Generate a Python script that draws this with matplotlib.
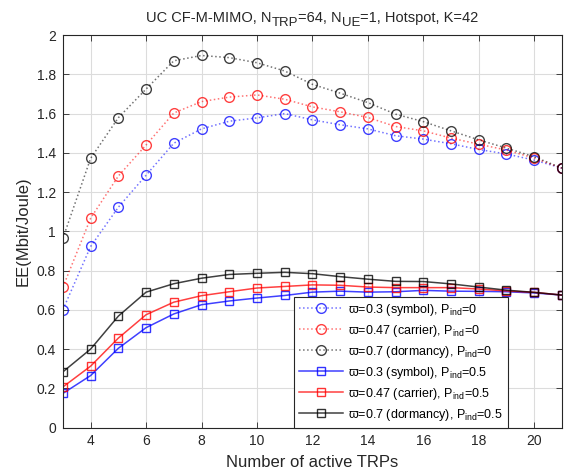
import matplotlib
matplotlib.use("Agg")
import matplotlib.pyplot as plt
from matplotlib.transforms import IdentityTransform
import numpy as np

plt.rcParams['font.family'] = ['Liberation Sans', 'DejaVu Sans']
plt.rcParams['mathtext.default'] = 'regular'

trps = np.arange(3, 22)

# EE with P_ind = 0 (dotted, circles)
ee_sym_p0 = [0.601, 0.923, 1.123, 1.286, 1.449, 1.522, 1.561, 1.578, 1.600, 1.568,
             1.543, 1.522, 1.487, 1.470, 1.446, 1.417, 1.394, 1.363, 1.322]
ee_car_p0 = [0.716, 1.067, 1.282, 1.440, 1.603, 1.661, 1.684, 1.695, 1.673, 1.634,
             1.609, 1.580, 1.534, 1.512, 1.475, 1.444, 1.414, 1.373, 1.322]
ee_dor_p0 = [0.965, 1.372, 1.579, 1.725, 1.869, 1.896, 1.885, 1.859, 1.817, 1.749,
             1.704, 1.656, 1.597, 1.559, 1.512, 1.466, 1.424, 1.380, 1.322]

# EE with P_ind = 0.5 (solid, squares)
ee_sym_p5 = [0.174, 0.265, 0.404, 0.509, 0.579, 0.626, 0.645, 0.660, 0.673, 0.690,
             0.695, 0.690, 0.692, 0.699, 0.695, 0.694, 0.692, 0.686, 0.675]
ee_car_p5 = [0.207, 0.313, 0.456, 0.575, 0.639, 0.672, 0.692, 0.711, 0.719, 0.727,
             0.725, 0.716, 0.713, 0.713, 0.713, 0.706, 0.696, 0.689, 0.675]
ee_dor_p5 = [0.284, 0.400, 0.568, 0.690, 0.733, 0.761, 0.780, 0.786, 0.791, 0.784,
             0.769, 0.756, 0.745, 0.744, 0.732, 0.716, 0.700, 0.689, 0.675]

labels = [
    '\u03d6=0.3 (symbol), P$_{ind}$=0',
    '\u03d6=0.47 (carrier), P$_{ind}$=0',
    '\u03d6=0.7 (dormancy), P$_{ind}$=0',
    '\u03d6=0.3 (symbol), P$_{ind}$=0.5',
    '\u03d6=0.47 (carrier), P$_{ind}$=0.5',
    '\u03d6=0.7 (dormancy), P$_{ind}$=0.5',
]

# title pieces: (text, is_subscript)
title_parts = [("UC CF-M-MIMO, N", False), ("TRP", True), ("=64, N", False),
               ("UE", True), ("=1, Hotspot, K=42", False)]

fig = plt.figure(figsize=(5.67, 4.74), dpi=100)
ax = fig.add_axes([0.111, 0.098, 0.880, 0.828])

dotted_series = [(ee_sym_p0, (0, 0, 1)), (ee_car_p0, (1, 0, 0)), (ee_dor_p0, (0, 0, 0))]
solid_series = [(ee_sym_p5, (0, 0, 1)), (ee_car_p5, (1, 0, 0)), (ee_dor_p5, (0, 0, 0))]

handles = []
for vals, col in dotted_series:
    h, = ax.plot(trps, vals, linestyle=':', color=col + (0.55,), linewidth=1.1,
                 marker='o', markersize=7, markerfacecolor='none',
                 markeredgecolor=col + (0.75,), markeredgewidth=1.0)
    handles.append(h)
for vals, col in solid_series:
    h, = ax.plot(trps, vals, linestyle='-', color=col + (0.75,), linewidth=1.1,
                 marker='s', markersize=6, markerfacecolor='none',
                 markeredgecolor=col + (0.8,), markeredgewidth=1.0)
    handles.append(h)

ax.set_xlim(3, 21)
ax.set_ylim(0, 2)
ax.set_xticks(np.arange(4, 21, 2))
ax.set_yticks(np.arange(0, 2.01, 0.2))
ax.set_yticklabels(['0', '0.2', '0.4', '0.6', '0.8', '1', '1.2', '1.4', '1.6', '1.8', '2'])
ax.tick_params(direction='in', top=True, right=True, labelsize=10, colors='#262626',
               length=4, width=0.6, pad=5)
ax.grid(True, color='#dcdcdc', linewidth=0.8)
ax.set_axisbelow(True)
for s in ax.spines.values():
    s.set_color('#262626')
    s.set_linewidth(0.8)

ax.set_xlabel('Number of active TRPs', fontsize=12, color='#262626', labelpad=5)
ax.set_ylabel('EE(Mbit/Joule)', fontsize=12, color='#262626', labelpad=4)

leg = ax.legend(handles, labels, loc='lower left', bbox_to_anchor=(0.463, 0.0),
                fontsize=9, frameon=True, fancybox=False, framealpha=1,
                edgecolor='#262626', handlelength=3.5, handletextpad=0.45,
                borderpad=0.4, labelspacing=0.4, borderaxespad=0)
leg.get_frame().set_linewidth(0.8)

# Title with full-height subscripts, laid out piece by piece and centred on the axes
fig.canvas.draw()
renderer = fig.canvas.get_renderer()
ident = IdentityTransform()
bbox = ax.get_window_extent(renderer)
baseline = bbox.y1 + 13
pieces = []
for txt, is_sub in title_parts:
    t = fig.text(0, baseline - (4 if is_sub else 0), txt, transform=ident,
                 fontsize=9.5 if is_sub else 10.5, color='#262626',
                 ha='left', va='baseline')
    pieces.append(t)
widths = [p.get_window_extent(renderer).width for p in pieces]
x = (bbox.x0 + bbox.x1) / 2 - sum(widths) / 2
for p, w in zip(pieces, widths):
    p.set_x(x)
    x += w

fig.savefig('out.png', dpi=100)
